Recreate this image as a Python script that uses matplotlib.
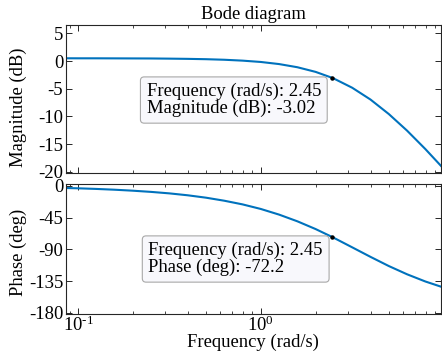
import math
import matplotlib
matplotlib.use("Agg")
import matplotlib.pyplot as plt
from matplotlib.ticker import FixedLocator, FuncFormatter, NullFormatter, LogLocator

# -------------------------------
# DATA
# -------------------------------

freq = [0.0794, 0.1, 0.1259, 0.1585, 0.1995, 0.2512, 0.3162, 0.3981,
        0.5012, 0.631, 0.7943, 1.0, 1.259, 1.585, 1.995, 2.45, 2.512,
        3.162, 3.981, 5.012, 6.31, 7.943, 10.0]

magnitude_db = [0.50, 0.49, 0.49, 0.48, 0.47, 0.46, 0.43, 0.39,
                0.33, 0.23, 0.07, -0.17, -0.55, -1.12, -1.96, -3.02, -3.17,
                -4.82, -6.95, -9.56, -12.56, -15.88, -19.43]

phase_deg = [-2.7, -3.3, -4.2, -5.3, -6.7, -8.4, -10.5, -13.2,
             -16.6, -20.9, -26.1, -32.6, -40.6, -50.1, -61.1, -72.2, -73.6,
             -87.0, -100.5, -113.5, -125.2, -135.4, -144.0]

tip_freq = 2.45
tip_mag = -3.02
tip_phase = -72.2

mag_ticks = [5, 0, -5, -10, -15, -20]
phase_ticks = [0, -45, -90, -135, -180]
freq_ticks = [0.1, 1.0]

# -------------------------------
# STYLE
# -------------------------------

plt.rcParams["font.family"] = ["Liberation Serif", "DejaVu Serif"]
plt.rcParams["font.size"] = 13.4
plt.rcParams["mathtext.fontset"] = "custom"
plt.rcParams["mathtext.rm"] = "Liberation Serif"
plt.rcParams["mathtext.it"] = "Liberation Serif:italic"
plt.rcParams["axes.unicode_minus"] = False

line_color = "#0072BD"
axis_color = "#262626"


def pow10(v, pos):
    e = int(round(math.log10(v)))
    if e < 0:
        return "$10^{\\text{-}%d}$" % (-e)
    return "$10^{%d}$" % e


def style_axes(ax):
    ax.set_xscale("log")
    for s in ax.spines.values():
        s.set_color(axis_color)
        s.set_linewidth(0.8)
    ax.tick_params(which="both", direction="in", top=True, right=True,
                   colors=axis_color, labelcolor="black")
    ax.tick_params(which="major", length=4, width=0.7, pad=2)
    ax.tick_params(axis="x", which="major", pad=1)
    ax.tick_params(which="minor", length=2.5, width=0.6)
    ax.xaxis.set_major_locator(FixedLocator(freq_ticks))
    ax.xaxis.set_minor_locator(LogLocator(base=10, subs=range(2, 10)))
    ax.xaxis.set_minor_formatter(NullFormatter())
    ax.set_xlim(0.086, 9.65)


fig = plt.figure(figsize=(4.42, 3.51), dpi=100)

# -------------------------------
# MAGNITUDE
# -------------------------------

ax1 = fig.add_axes([0.1493, 0.5071, 0.848, 0.4217])
style_axes(ax1)
ax1.plot(freq, magnitude_db, color=line_color, lw=1.5)
ax1.plot([tip_freq], [tip_mag], "o", color="black", ms=2.2)
ax1.set_ylim(-20.2, 6.5)
ax1.set_yticks(mag_ticks)
ax1.xaxis.set_major_formatter(NullFormatter())
ax1.set_title("Bode diagram", fontsize=13.4, pad=4)
ax1.set_ylabel("Magnitude (dB)")
ax1.yaxis.set_label_coords(-0.105, 0.446)
ax1.text(0.215, 0.493,
         "Frequency (rad/s): %.2f\nMagnitude (dB): %.2f" % (tip_freq, tip_mag),
         transform=ax1.transAxes, ha="left", va="center", linespacing=0.95,
         bbox=dict(boxstyle="round,pad=0.33,rounding_size=0.2",
                   fc="#F8F8FC", ec="#A8A8A8", lw=0.8))

# -------------------------------
# PHASE
# -------------------------------

ax2 = fig.add_axes([0.1493, 0.1054, 0.848, 0.3704])
style_axes(ax2)
ax2.plot(freq, phase_deg, color=line_color, lw=1.5)
ax2.plot([tip_freq], [tip_phase], "o", color="black", ms=2.2)
ax2.set_ylim(-181.5, 2.8)
ax2.set_yticks(phase_ticks)
ax2.xaxis.set_major_formatter(FuncFormatter(pow10))
ax2.set_xlabel("Frequency (rad/s)", labelpad=-1)
ax2.set_ylabel("Phase (deg)")
ax2.yaxis.set_label_coords(-0.105, 0.477)
ax2.text(0.22, 0.423,
         "Frequency (rad/s): %.2f\nPhase (deg): %.1f" % (tip_freq, tip_phase),
         transform=ax2.transAxes, ha="left", va="center", linespacing=0.95,
         bbox=dict(boxstyle="round,pad=0.33,rounding_size=0.2",
                   fc="#F8F8FC", ec="#A8A8A8", lw=0.8))

plt.savefig("out.png", dpi=100)
